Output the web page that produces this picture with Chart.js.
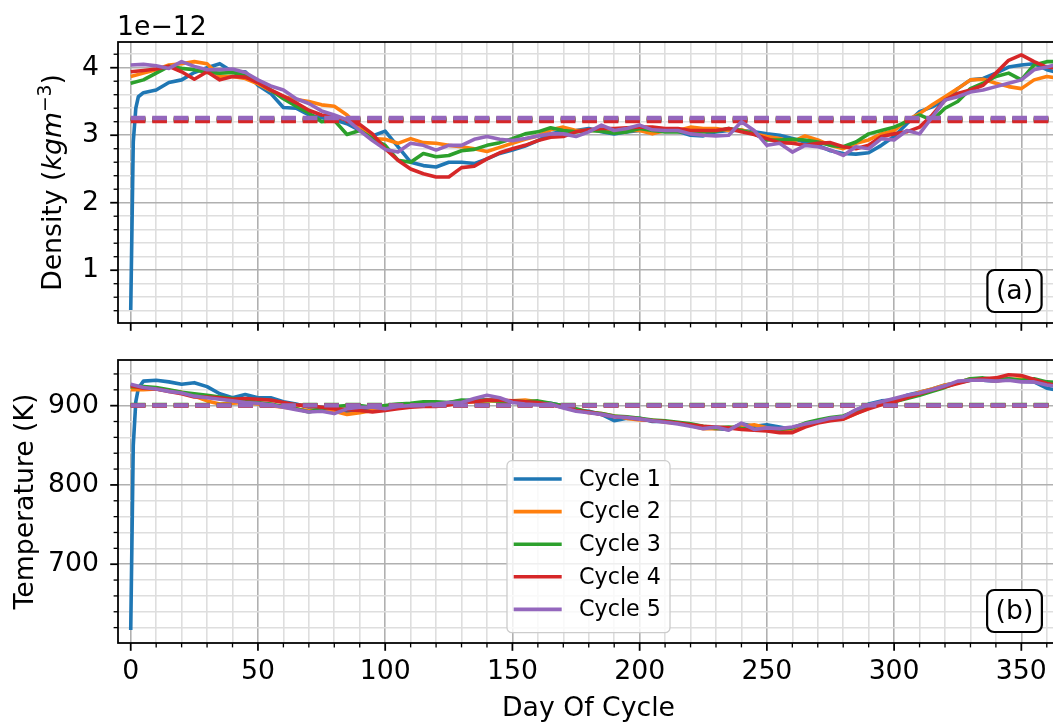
<!DOCTYPE html>
<html lang="en">
  <head>
    <meta charset="UTF-8" />
    <title>Density and temperature over the cycle</title>
    <script src="https://cdn.jsdelivr.net/npm/chart.js@4.4.1/dist/chart.umd.min.js"></script>
    <style>
      html, body { margin: 0; padding: 0; background: #fff; overflow: hidden; }
      canvas { position: absolute; left: 0; }
      #topChart { top: 0; }
      #bottomChart { top: 340px; }
    </style>
  </head>

  <body>
    <!-- (a) density panel, (b) temperature panel -->
    <canvas id="topChart" width="1059" height="340"></canvas>
    <canvas id="bottomChart" width="1059" height="386"></canvas>

  <script>
    // day of cycle, shared by every series
    const days = [0, 5, 10, 15, 20, 25, 30, 35, 40, 45, 50, 55, 60, 65, 70, 75, 80, 85, 90, 95,
      100, 105, 110, 115, 120, 125, 130, 135, 140, 145, 150, 155, 160, 165, 170, 175, 180, 185, 190, 195,
      200, 205, 210, 215, 220, 225, 230, 235, 240, 245, 250, 255, 260, 265, 270, 275, 280, 285, 290, 295,
      300, 305, 310, 315, 320, 325, 330, 335, 340, 345, 350, 355, 360, 365];

    // cycle 1 starts cold, extra samples for the first days
    const spinupDays = [1, 2, 3];
    const spinupDensity = [2.9, 3.4, 3.57];
    const spinupTemperature = [850, 905, 922];

    // density, in units of 1e-12 kg m^-3
    const density1 = [0.41, 3.63, 3.67, 3.78, 3.82, 3.93, 4.00, 4.06, 3.94, 3.94, 3.74, 3.62, 3.41, 3.40, 3.30, 3.26, 3.23, 3.17, 3.07, 2.99,
      3.06, 2.83, 2.60, 2.55, 2.53, 2.60, 2.60, 2.58, 2.65, 2.73, 2.78, 2.84, 2.92, 3.02, 3.06, 3.07, 3.10, 3.05, 3.02, 3.05,
      3.07, 3.10, 3.07, 3.06, 3.00, 2.99, 3.05, 3.07, 3.07, 3.05, 3.02, 3.00, 2.95, 2.90, 2.85, 2.77, 2.73, 2.72, 2.74, 2.85,
      2.98, 3.17, 3.35, 3.42, 3.52, 3.69, 3.82, 3.84, 3.92, 4.01, 4.04, 4.06, 3.97, 3.92];
    const density2 = [3.87, 3.92, 3.97, 4.04, 4.06, 4.09, 4.06, 3.87, 3.87, 3.84, 3.76, 3.66, 3.57, 3.53, 3.50, 3.45, 3.43, 3.30, 3.12, 2.95,
      2.94, 2.88, 2.95, 2.89, 2.88, 2.85, 2.83, 2.80, 2.76, 2.82, 2.88, 2.94, 2.99, 3.08, 3.12, 3.07, 3.07, 3.07, 3.07, 3.07,
      3.07, 3.02, 3.07, 3.07, 3.12, 3.10, 3.10, 3.07, 3.08, 3.02, 2.98, 2.95, 2.90, 2.99, 2.93, 2.85, 2.80, 2.88, 2.93, 3.02,
      3.07, 3.22, 3.32, 3.45, 3.57, 3.69, 3.82, 3.83, 3.77, 3.72, 3.69, 3.82, 3.87, 3.84];
    const density3 = [3.77, 3.82, 3.92, 4.02, 3.99, 3.97, 3.93, 3.92, 3.93, 3.88, 3.79, 3.67, 3.54, 3.43, 3.33, 3.20, 3.22, 3.01, 3.07, 2.95,
      2.85, 2.63, 2.60, 2.73, 2.68, 2.70, 2.77, 2.79, 2.85, 2.89, 2.95, 3.02, 3.05, 3.11, 3.07, 3.05, 3.07, 3.06, 3.03, 3.05,
      3.10, 3.07, 3.05, 3.05, 3.05, 3.05, 3.06, 3.10, 3.07, 3.02, 2.93, 2.93, 2.94, 2.93, 2.90, 2.85, 2.83, 2.90, 3.02, 3.07,
      3.12, 3.20, 3.30, 3.22, 3.40, 3.50, 3.69, 3.77, 3.87, 3.92, 3.82, 4.04, 4.09, 4.09];
    const density4 = [3.94, 3.96, 3.98, 4.02, 3.94, 3.83, 3.94, 3.82, 3.87, 3.86, 3.78, 3.67, 3.58, 3.48, 3.37, 3.30, 3.28, 3.22, 3.16, 3.02,
      2.80, 2.63, 2.50, 2.43, 2.38, 2.38, 2.52, 2.54, 2.65, 2.74, 2.80, 2.85, 2.92, 2.97, 2.98, 3.05, 3.08, 3.10, 3.10, 3.11,
      3.12, 3.12, 3.10, 3.10, 3.07, 3.07, 3.07, 3.10, 3.05, 3.01, 2.95, 2.89, 2.88, 2.85, 2.88, 2.89, 2.83, 2.80, 2.85, 2.98,
      3.02, 3.05, 3.12, 3.30, 3.52, 3.62, 3.67, 3.74, 3.92, 4.11, 4.19, 4.09, 4.01, 3.99];
    const density5 = [4.04, 4.05, 4.03, 3.99, 4.09, 4.02, 3.97, 3.97, 3.98, 3.93, 3.82, 3.73, 3.67, 3.54, 3.47, 3.36, 3.30, 3.23, 3.07, 2.92,
      2.79, 2.75, 2.88, 2.85, 2.78, 2.85, 2.85, 2.94, 2.98, 2.94, 2.92, 2.95, 2.99, 3.02, 3.02, 2.98, 3.05, 3.15, 3.07, 3.10,
      3.15, 3.08, 3.07, 3.07, 3.02, 3.00, 2.99, 3.00, 3.20, 3.07, 2.85, 2.88, 2.75, 2.85, 2.83, 2.78, 2.70, 2.83, 2.80, 2.95,
      2.93, 3.07, 3.02, 3.27, 3.52, 3.57, 3.64, 3.67, 3.72, 3.77, 3.82, 3.97, 4.01, 4.06];
    const densityMeans = [3.225, 3.245, 3.235, 3.21, 3.255];

    // temperature, K
    const temperature1 = [617, 931, 932, 930, 927, 929, 924, 915, 910, 914, 910, 910, 905, 902, 898, 898, 896, 892, 896, 894,
      897, 900, 900, 901, 902, 904, 906, 907, 907, 906, 905, 904, 903, 903, 900, 894, 893, 889, 881, 884,
      884, 880, 880, 878, 875, 873, 871, 870, 877, 874, 876, 873, 870, 876, 879, 883, 886, 894, 902, 906,
      907, 913, 917, 921, 926, 929, 932, 932, 931, 934, 931, 930, 922, 919];
    const temperature2 = [920, 920, 921, 919, 917, 912, 906, 902, 903, 904, 902, 900, 898, 896, 894, 894, 893, 889, 891, 894,
      896, 898, 900, 902, 902, 903, 904, 905, 906, 906, 906, 907, 905, 902, 898, 895, 891, 890, 887, 884,
      882, 882, 879, 878, 875, 871, 871, 872, 874, 876, 872, 868, 871, 877, 881, 884, 883, 890, 897, 903,
      908, 911, 917, 921, 926, 929, 934, 933, 931, 933, 934, 931, 929, 927];
    const temperature3 = [924, 924, 923, 920, 917, 915, 913, 911, 909, 907, 904, 902, 899, 896, 892, 896, 899, 900, 900, 898,
      900, 902, 903, 905, 905, 904, 907, 906, 907, 906, 906, 905, 906, 903, 900, 896, 892, 890, 887, 886,
      884, 882, 881, 879, 877, 874, 872, 873, 871, 870, 869, 870, 872, 878, 882, 885, 887, 893, 899, 902,
      905, 909, 913, 918, 923, 929, 934, 935, 933, 934, 932, 934, 930, 929];
    const temperature4 = [925, 922, 921, 918, 915, 911, 911, 910, 908, 909, 908, 907, 904, 901, 900, 898, 896, 895, 894, 892,
      894, 896, 898, 899, 899, 901, 904, 905, 907, 907, 906, 905, 904, 901, 898, 894, 892, 889, 886, 885,
      883, 881, 880, 878, 876, 874, 873, 872, 870, 869, 868, 866, 866, 873, 878, 881, 883, 890, 896, 901,
      905, 910, 915, 920, 924, 928, 932, 934, 935, 939, 938, 933, 928, 925];
    const temperature5 = [927, 923, 921, 918, 916, 912, 910, 908, 906, 904, 903, 901, 898, 895, 892, 893, 890, 896, 898, 898,
      896, 899, 900, 901, 902, 904, 904, 909, 913, 910, 904, 902, 901, 902, 897, 893, 891, 889, 886, 885,
      883, 881, 879, 877, 874, 871, 873, 869, 878, 870, 872, 871, 873, 877, 880, 884, 886, 895, 901, 905,
      909, 913, 916, 920, 925, 931, 932, 932, 931, 932, 930, 930, 926, 924];
    const temperatureMeans = [900.3, 900.5, 901.0, 900.2, 900.3];

    const cycleLabels = ['Cycle 1', 'Cycle 2', 'Cycle 3', 'Cycle 4', 'Cycle 5'];
    const colors = ['#1f77b4', '#ff7f0e', '#2ca02c', '#d62728', '#9467bd'];
  </script>

  <script>
    const FONT = '"DejaVu Sans", sans-serif';
    const BIG = 26.7;   // tick labels, axis labels
    const SMALL = 22.2; // legend
    const LINE_W = 3.6;

    const isMajor = (v, step) => Math.abs(v / step - Math.round(v / step)) < 1e-6;
    const toPoints = (xs, ys) => xs.map((x, i) => ({ x: x, y: ys[i] }));

    // one solid line + one dashed mean line per cycle, later cycles drawn on top
    function buildDatasets(series, means, spinup) {
      const sets = [];
      series.forEach((vals, k) => {
        let pts = toPoints(days, vals);
        if (k === 0) pts = [pts[0]].concat(toPoints(spinupDays, spinup), pts.slice(1));
        sets.push({
          label: cycleLabels[k], data: pts, borderColor: colors[k], borderWidth: LINE_W,
          pointRadius: 0, tension: 0, borderJoinStyle: 'round', order: -2 * k
        });
        sets.push({
          label: '', data: toPoints([days[0], days[days.length - 1]], [means[k], means[k]]),
          borderColor: colors[k], borderWidth: 4.4, borderDash: [14.7, 6.8],
          pointRadius: 0, order: -2 * k - 1
        });
      });
      return sets;
    }

    // ticks, spines, offset text, axis label, panel tag, legend
    const decor = {
      id: 'decor',
      afterDraw(chart, args, o) {
        const ctx = chart.ctx, a = chart.chartArea;
        const xs = chart.scales.x, ys = chart.scales.y;
        ctx.save();
        ctx.strokeStyle = '#000';
        xs.ticks.forEach(t => {
          const big = isMajor(t.value, o.xMajor);
          const p = xs.getPixelForValue(t.value);
          ctx.lineWidth = big ? 1.78 : 1.33;
          ctx.beginPath(); ctx.moveTo(p, a.bottom); ctx.lineTo(p, a.bottom + (big ? 7.8 : 4.4)); ctx.stroke();
        });
        ys.ticks.forEach(t => {
          const big = isMajor(t.value, o.yMajor);
          const p = ys.getPixelForValue(t.value);
          ctx.lineWidth = big ? 1.78 : 1.33;
          ctx.beginPath(); ctx.moveTo(a.left, p); ctx.lineTo(a.left - (big ? 7.8 : 4.4), p); ctx.stroke();
        });
        ctx.lineWidth = 1.78;
        ctx.strokeRect(a.left, a.top, a.right - a.left, a.bottom - a.top);

        ctx.fillStyle = '#000';
        if (o.offsetText) {
          ctx.font = BIG + 'px ' + FONT;
          ctx.textAlign = 'left'; ctx.textBaseline = 'alphabetic';
          ctx.fillText(o.offsetText, a.left - 1, a.top - 7);
        }

        // rotated y label built from text runs
        const runs = o.yTitle.map(r => {
          const size = r.sup ? BIG * 0.7 : BIG;
          const font = (r.italic ? 'italic ' : '') + size + 'px ' + FONT;
          ctx.font = font;
          return { text: r.text, font: font, w: ctx.measureText(r.text).width, rise: r.sup ? 10 : 0 };
        });
        const total = runs.reduce((s, r) => s + r.w, 0);
        ctx.translate(o.yTitleX, (a.top + a.bottom) / 2);
        ctx.rotate(-Math.PI / 2);
        ctx.textAlign = 'left'; ctx.textBaseline = 'alphabetic';
        let cx = -total / 2;
        runs.forEach(r => { ctx.font = r.font; ctx.fillText(r.text, cx, -r.rise); cx += r.w; });
        ctx.setTransform(1, 0, 0, 1, 0, 0);

        // panel tag in a rounded box
        const tx = a.right - 44.5, ty = a.bottom - 32;
        ctx.font = BIG + 'px ' + FONT;
        const tw = ctx.measureText(o.tag).width;
        ctx.beginPath();
        ctx.roundRect(tx - tw / 2 - 8.5, ty - 21, tw + 17, 42, 7);
        ctx.fillStyle = '#fff'; ctx.fill();
        ctx.lineWidth = 2.2; ctx.stroke();
        ctx.fillStyle = '#000';
        ctx.textAlign = 'center'; ctx.textBaseline = 'middle';
        ctx.fillText(o.tag, tx, ty + 1);

        if (o.legend) {
          const items = chart.data.datasets.filter(d => d.label);
          ctx.font = SMALL + 'px ' + FONT;
          const textW = Math.max.apply(null, items.map(d => ctx.measureText(d.label).width));
          const lineLen = 48, row = 32.6;
          const w = 6.7 + lineLen + 17.4 + textW + 9.1, h = 172;
          const bx = (a.left + a.right) / 2 - w / 2, by = a.bottom - 10.3 - h;
          ctx.beginPath();
          ctx.roundRect(bx, by, w, h, 5);
          ctx.fillStyle = 'rgba(255,255,255,0.8)'; ctx.fill();
          ctx.strokeStyle = '#cccccc'; ctx.lineWidth = 1.3; ctx.stroke();
          ctx.textAlign = 'left'; ctx.textBaseline = 'middle';
          items.forEach((d, i) => {
            const y = by + 18.3 + i * row;
            ctx.strokeStyle = d.borderColor; ctx.lineWidth = LINE_W;
            ctx.beginPath(); ctx.moveTo(bx + 6.7, y); ctx.lineTo(bx + 6.7 + lineLen, y); ctx.stroke();
            ctx.fillStyle = '#000';
            ctx.fillText(d.label, bx + 6.7 + lineLen + 17.4, y + 1);
          });
        }
        ctx.restore();
      }
    };

    function makeChart(id, cfg) {
      const tickFont = { family: FONT, size: BIG };
      const clear = 'rgba(0,0,0,0)';
      return new Chart(document.getElementById(id), {
        type: 'line',
        data: { datasets: buildDatasets(cfg.series, cfg.means, cfg.spinup) },
        options: {
          responsive: false, devicePixelRatio: 1, animation: false, events: [],
          layout: { padding: { top: cfg.padTop, left: 0, right: 0, bottom: 0 } },
          scales: {
            x: {
              type: 'linear', min: -5, max: 364.8,
              afterFit: s => { s.height = cfg.xHeight; },
              border: { display: false },
              // the tick slot only spaces the labels, real tick marks come from the plugin
              grid: {
                drawTicks: true, tickLength: 13, tickColor: clear, lineWidth: 1.6,
                color: c => isMajor(c.tick.value, 50) ? '#b0b0b0' : '#dedede'
              },
              ticks: {
                display: cfg.xLabels, stepSize: 10, includeBounds: false, autoSkip: false, maxRotation: 0,
                padding: 0, color: '#000', font: tickFont,
                callback: v => isMajor(v, 50) ? String(Math.round(v)) : ''
              },
              title: { display: cfg.xLabels, text: 'Day Of Cycle', color: '#000', font: tickFont, padding: { top: 0, bottom: 1 } }
            },
            y: {
              type: 'linear', min: cfg.yMin, max: cfg.yMax,
              afterFit: s => { s.width = 118; },
              border: { display: false },
              grid: {
                drawTicks: true, tickLength: 19, tickColor: clear, lineWidth: 1.6,
                color: c => isMajor(c.tick.value, cfg.yMajor) ? '#b0b0b0' : '#dedede'
              },
              ticks: {
                stepSize: cfg.yMinor, includeBounds: false, autoSkip: false, padding: 0, color: '#000', font: tickFont,
                callback: v => isMajor(v, cfg.yMajor) ? String(Math.round(v)) : ''
              }
            }
          },
          plugins: {
            legend: { display: false },
            tooltip: { enabled: false },
            decor: {
              xMajor: 50, yMajor: cfg.yMajor, tag: cfg.tag, offsetText: cfg.offsetText,
              yTitle: cfg.yTitle, yTitleX: cfg.yTitleX, legend: cfg.legend
            }
          }
        },
        plugins: [decor]
      });
    }

    makeChart('topChart', {
      series: [density1, density2, density3, density4, density5], means: densityMeans, spinup: spinupDensity,
      padTop: 42, xHeight: 17, xLabels: false, yMin: 0.218, yMax: 4.381, yMajor: 1, yMinor: 0.2,
      tag: '(a)', offsetText: '1e\u221212', legend: false, yTitleX: 61,
      yTitle: [{ text: 'Density (' }, { text: 'kgm', italic: true }, { text: '\u22123', sup: true }, { text: ')' }]
    });

    makeChart('bottomChart', {
      series: [temperature1, temperature2, temperature3, temperature4, temperature5], means: temperatureMeans, spinup: spinupTemperature,
      padTop: 20, xHeight: 83, xLabels: true, yMin: 600.6, yMax: 957.6, yMajor: 100, yMinor: 20,
      tag: '(b)', offsetText: '', legend: true, yTitleX: 33,
      yTitle: [{ text: 'Temperature (K)' }]
    });
  </script>
  </body>
</html>
